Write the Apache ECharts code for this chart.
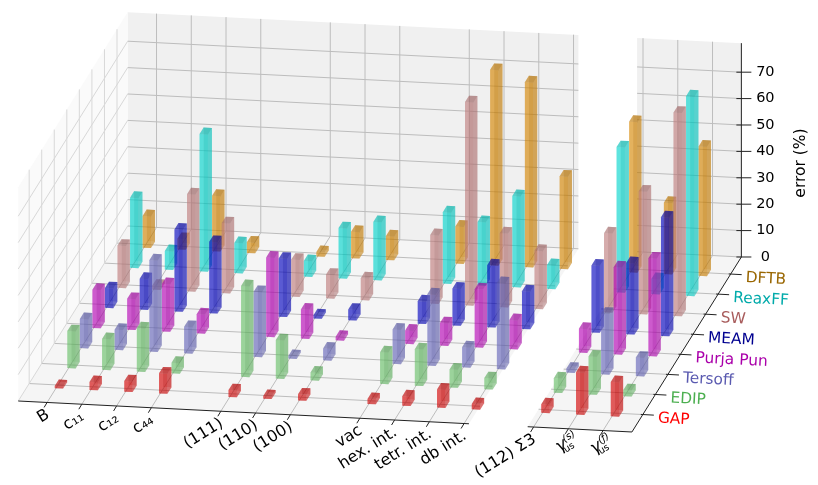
<!DOCTYPE html>
<html>
<head>
<meta charset="utf-8">
<script src="https://cdn.jsdelivr.net/npm/echarts@6/dist/echarts.min.js"></script>
<style>html,body{margin:0;padding:0;background:#fff}#main{width:818px;height:485px}</style>
</head>
<body>
<div id="main"></div>
<script>
// column positions along the front axis, there are gaps between the groups
var columnPos = [0, 1, 2, 3, 5, 6, 7, 9, 10, 11, 12, 14, 15, 16];
var columnLabels = ['B', 'c₁₁', 'c₁₂', 'c₄₄', '(111)', '(110)', '(100)', 'vac', 'hex. int.', 'tetr. int.', 'db int.', '(112) Σ3', '', ''];
var potentials = ['GAP', 'EDIP', 'Tersoff', 'Purja Pun', 'MEAM', 'SW', 'ReaxFF', 'DFTB'];
var potentialColors = ['#ff0000', '#4caf50', '#5a5ab0', '#aa00aa', '#000090', '#a85c5c', '#00aaaa', '#996600'];
var barColors = [[213, 0, 0], [102, 190, 102], [100, 100, 186], [182, 0, 182], [0, 0, 190], [190, 125, 125], [0, 213, 205], [213, 134, 0]];
var zTicks = [0, 10, 20, 30, 40, 50, 60, 70];

var gap =     [0.8, 3, 4, 7.6, 2.6, 1, 2.3, 1.9, 3.6, 6.8, 2, 3.2, 16, 13];
var edip =    [14, 11.7, 16.4, 4, 34.4, 14.6, 3, 12, 13.8, 6.8, 4.2, 5.5, 14.4, 2.3];
var tersoff = [11, 7.6, 34.6, 10, 24.6, 1, 4.5, 13, 27, 7.6, 32.6, 1.5, 23, 7];
var purja =   [14.5, 11.7, 18, 7.2, 30, 11, 1.3, 5, 8.5, 22, 11, 9, 33, 37];
var meam =    [7.5, 11.7, 31, 27, 22, 1.2, 4, 8.5, 14, 23.5, 14.3, 25.4, 27, 45];
var sw =      [16, 1.5, 36.8, 26.5, 14, 9, 8.3, 26, 77, 28, 22, 30, 46.5, 77];
var reaxff =  [26.5, 7, 52, 11.4, 5.9, 19, 22, 27, 24, 34.5, 9, 55, 5.7, 75.6];
var dftb =    [12, 4, 21, 4, 1.7, 10, 9, 14, 74, 70, 35, 57, 27, 49];
var allValues = [gap, edip, tersoff, purja, meam, sw, reaxff, dftb];

// orthographic view of the box, pixels per unit of the depth axis
var depthDx = 12.55, depthDy = -20.07, slopeDy = 1.755;
var iMin = -0.83, iMax1 = 12.14, iMin2 = 13.83, iMax = 16.83;
var jMin = -0.87, jMax = 7.85, zTop = 81;
var barWi = 0.12, barWj = 0.16, barShift = 0.085;
var alphaMain = 0.45, alphaSide = 0.33;

var myChart = echarts.init(document.getElementById('main'), null, {renderer: 'canvas'});

function project(api, i, j, z) {
  var p = api.coord([i, z]);
  return [p[0] + depthDx * j, p[1] + slopeDy * i + depthDy * j];
}
function shade(c, f) {
  return 'rgb(' + Math.round(c[0] * f) + ',' + Math.round(c[1] * f) + ',' + Math.round(c[2] * f) + ')';
}
function poly(points, fill, op) {
  return {type: 'polygon', silent: true, shape: {points: points}, style: {fill: fill, opacity: op, stroke: null}};
}
function line(a, b, color, width) {
  return {type: 'line', silent: true, shape: {x1: a[0], y1: a[1], x2: b[0], y2: b[1]}, style: {stroke: color, lineWidth: width}};
}
function text(x, y, str, o) {
  return {type: 'text', silent: true, x: x, y: y, rotation: (o.rot || 0) * Math.PI / 180, style: {
    x: 0, y: 0, text: str, fill: o.color || '#000', fontSize: o.size || 15, fontStyle: o.style || 'normal',
    fontFamily: 'DejaVu Sans', align: o.align || 'left', verticalAlign: 'middle'
  }};
}

function renderBox(params, api) {
  var children = [];
  var panels = [[iMin, iMax1], [iMin2, iMax]];
  panels.forEach(function (r) {
    children.push(poly([project(api, r[0], jMax, 0), project(api, r[1], jMax, 0), project(api, r[1], jMax, zTop), project(api, r[0], jMax, zTop)], '#f0f0f0', 1));
    children.push(poly([project(api, r[0], jMin, 0), project(api, r[1], jMin, 0), project(api, r[1], jMax, 0), project(api, r[0], jMax, 0)], '#f5f5f5', 1));
  });
  children.push(poly([project(api, iMin, jMin, 0), project(api, iMin, jMax, 0), project(api, iMin, jMax, zTop), project(api, iMin, jMin, zTop)], '#fafafa', 1));

  var grid = '#bdbdbd';
  columnPos.forEach(function (i) {
    children.push(line(project(api, i, jMax, 0), project(api, i, jMax, zTop), grid, 1));
    children.push(line(project(api, i, jMin, 0), project(api, i, jMax, 0), grid, 1));
  });
  potentials.forEach(function (n, j) {
    panels.forEach(function (r) {
      children.push(line(project(api, r[0], j, 0), project(api, r[1], j, 0), grid, 1));
    });
    children.push(line(project(api, iMin, j, 0), project(api, iMin, j, zTop), '#d8d8d8', 1));
  });
  zTicks.forEach(function (z) {
    panels.forEach(function (r) {
      children.push(line(project(api, r[0], jMax, z), project(api, r[1], jMax, z), grid, 1));
    });
    children.push(line(project(api, iMin, jMin, z), project(api, iMin, jMax, z), '#d8d8d8', 1));
  });
  return {type: 'group', children: children};
}

function renderAxes(params, api) {
  var children = [];
  var dark = '#222';
  children.push(line(project(api, iMin, jMin, 0), project(api, iMax1, jMin, 0), dark, 1));
  children.push(line(project(api, iMin2, jMin, 0), project(api, iMax, jMin, 0), dark, 1));
  children.push(line(project(api, iMax, jMin, 0), project(api, iMax, jMax, 0), dark, 1));
  children.push(line(project(api, iMax, jMax, 0), project(api, iMax, jMax, zTop), dark, 1));

  columnPos.forEach(function (i, k) {
    var a = project(api, i, jMin, 0);
    children.push(line(a, [a[0] - 3, a[1] + 5], dark, 1));
    if (columnLabels[k]) {
      children.push(text(a[0] + 1, a[1] + 11, columnLabels[k], {rot: 32, align: 'right', size: 16}));
    }
  });
  // the two stacking fault labels have a sub and a superscript
  [[15, '(s)'], [16, '(ƒ)']].forEach(function (m) {
    var a = project(api, m[0], jMin, 0);
    children.push(text(a[0] - 7, a[1] + 17, 'γ', {rot: 32, align: 'center', size: 17, style: 'italic'}));
    children.push(text(a[0] + 0.5, a[1] + 8, m[1], {rot: 32, align: 'center', size: 10, style: 'italic'}));
    children.push(text(a[0] + 1, a[1] + 19, 'us', {rot: 32, align: 'center', size: 9.5}));
  });
  potentials.forEach(function (n, j) {
    var a = project(api, iMax, j, 0);
    children.push(line([a[0] - 2, a[1] - 0.1], [a[0] + 11, a[1] + 0.6], dark, 1));
    children.push(text(a[0] + 15, a[1] + 4, n, {color: potentialColors[j], rot: -3, size: 15.4}));
  });
  zTicks.forEach(function (z) {
    var a = project(api, iMax, jMax, z);
    children.push(line([a[0] - 5, a[1]], [a[0] + 10, a[1]], dark, 1));
    children.push(text(a[0] + 24, a[1], String(z), {align: 'center', size: 14.5}));
  });
  children.push(text(801, 163, 'error (%)', {rot: 90, align: 'center', size: 15.5}));
  return {type: 'group', children: children};
}

function renderBar(params, api) {
  var i = api.value(0) + barShift, j = api.value(1), z = api.value(2);
  var c = barColors[j];
  function v(di, dj, h) { return project(api, i + di * barWi, j + dj * barWj, h); }
  // back faces first, the front face is brighter than the back one
  var faces = [
    {p: [v(-1, -1, 0), v(1, -1, 0), v(1, 1, 0), v(-1, 1, 0)], f: 0.75, a: alphaSide},
    {p: [v(-1, 1, 0), v(1, 1, 0), v(1, 1, z), v(-1, 1, z)], f: 0.8, a: alphaMain},
    {p: [v(-1, -1, 0), v(-1, 1, 0), v(-1, 1, z), v(-1, -1, z)], f: 1, a: alphaSide},
    {p: [v(1, -1, 0), v(1, 1, 0), v(1, 1, z), v(1, -1, z)], f: 1, a: alphaSide},
    {p: [v(-1, -1, 0), v(1, -1, 0), v(1, -1, z), v(-1, -1, z)], f: 1, a: alphaMain},
    {p: [v(-1, -1, z), v(1, -1, z), v(1, 1, z), v(-1, 1, z)], f: 0.85, a: alphaMain}
  ];
  return {type: 'group', children: faces.map(function (q) { return poly(q.p, shade(c, q.f), q.a); })};
}

var series = [
  {type: 'custom', coordinateSystem: 'cartesian2d', data: [[0, 0]], renderItem: renderBox, silent: true, z: 1}
];
// back row first so the nearer bars paint over it
for (var j = potentials.length - 1; j >= 0; j--) {
  series.push({
    name: potentials[j], type: 'custom', coordinateSystem: 'cartesian2d', silent: true, z: 2,
    renderItem: renderBar, clip: false,
    data: columnPos.map(function (pos, k) { return [pos, j, allValues[j][k]]; })
  });
}
series.push({type: 'custom', coordinateSystem: 'cartesian2d', data: [[0, 0]], renderItem: renderAxes, silent: true, z: 3});

var option = {
  animation: false,
  backgroundColor: '#fff',
  grid: {left: 0, top: 0, width: 818, height: 485},
  xAxis: {type: 'value', min: -58 / 34.75, max: 760 / 34.75, show: false},
  yAxis: {type: 'value', min: -100 / 2.64, max: 385 / 2.64, show: false},
  series: series
};
myChart.setOption(option);
</script>
</body>
</html>
